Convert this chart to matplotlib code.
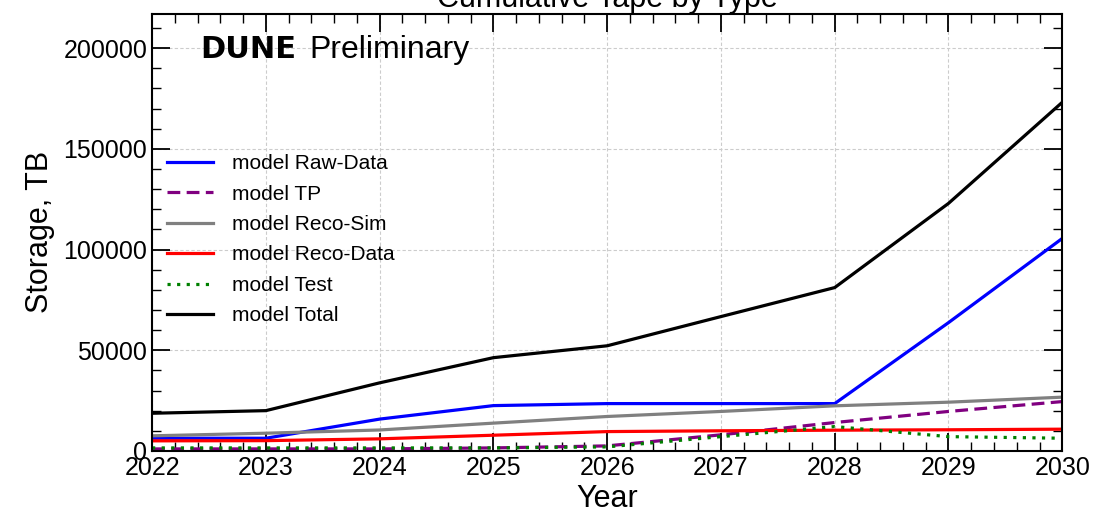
import matplotlib.pyplot as plt
from matplotlib.ticker import MultipleLocator

plt.rcParams["font.family"] = ["Liberation Sans", "DejaVu Sans"]

YEARS = [2022, 2023, 2024, 2025, 2026, 2027, 2028, 2029, 2030]

RAW_DATA = [6300, 6300, 15800, 22500, 23500, 23500, 23500, 63700, 105500]
TP = [1000, 1000, 1000, 1500, 2500, 8000, 14100, 19600, 24500]
RECO_SIM = [7500, 8800, 10400, 13800, 17100, 19600, 22400, 24200, 26700]
RECO_DATA = [5000, 5100, 6000, 7800, 9600, 10000, 10300, 10500, 10800]
TEST = [1500, 1500, 1500, 1500, 2000, 7100, 12100, 7100, 6300]
TOTAL = [18700, 20000, 33800, 46300, 52200, 66700, 81100, 122900, 173100]

SERIES = [
    ("model Raw-Data", RAW_DATA, "blue", "-"),
    ("model TP", TP, "purple", (0, (4, 2))),
    ("model Reco-Sim", RECO_SIM, "gray", "-"),
    ("model Reco-Data", RECO_DATA, "red", "-"),
    ("model Test", TEST, "green", (0, (1, 2))),
    ("model Total", TOTAL, "black", "-"),
]

fig = plt.figure(figsize=(10.94, 5.13), dpi=100)
ax = fig.add_axes([0.139, 0.121, 0.832, 0.852])

for label, values, color, style in SERIES:
    ax.plot(YEARS, values, label=label, color=color, linestyle=style, linewidth=2.3)

ax.set_xlim(2022, 2030)
ax.set_ylim(0, 217000)
ax.xaxis.set_major_locator(MultipleLocator(1))
ax.xaxis.set_minor_locator(MultipleLocator(0.2))
ax.yaxis.set_major_locator(MultipleLocator(50000))
ax.yaxis.set_minor_locator(MultipleLocator(10000))
ax.tick_params(which="both", direction="in", top=True, right=True, labelsize=18)
ax.tick_params(which="major", length=13, width=1.3)
ax.tick_params(which="minor", length=6.5, width=1.0)
for spine in ax.spines.values():
    spine.set_linewidth(1.5)

ax.grid(True, which="major", linestyle=(0, (3, 2)), color="#cccccc", linewidth=0.8)

ax.set_xlabel("Year", fontsize=22, labelpad=3)
ax.set_ylabel("Storage, TB", fontsize=22, labelpad=6)
ax.set_title("Cumulative Tape by Type", fontsize=22, pad=5)

ax.text(0.053, 0.9, "DUNE", transform=ax.transAxes, fontsize=22,
        fontweight="bold", family="DejaVu Sans", va="baseline")
ax.text(0.173, 0.9, "Preliminary", transform=ax.transAxes, fontsize=23,
        va="baseline")

ax.legend(loc="upper left", bbox_to_anchor=(-0.004, 0.722), frameon=False,
          fontsize=15, handlelength=2.2, labelspacing=0.55, handletextpad=0.9)

fig.savefig("out.png", dpi=100)
